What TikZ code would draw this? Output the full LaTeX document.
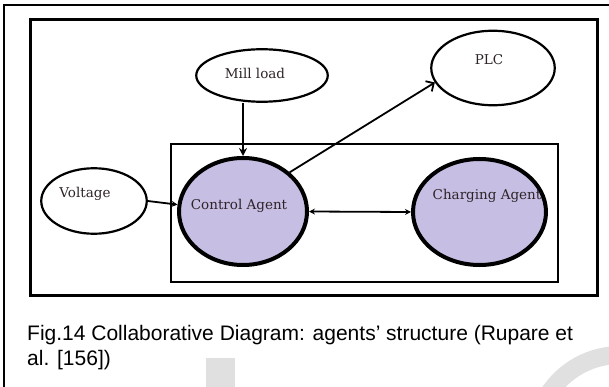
\documentclass[tikz,border=0pt]{standalone}
\usepackage{fontspec}
\setmainfont{Liberation Sans}
\newfontfamily\nodefont{DejaVu Serif}
\usetikzlibrary{shapes.geometric,arrows.meta}

\definecolor{agentfill}{RGB}{199,190,228}
\definecolor{labelink}{RGB}{45,35,40}
\definecolor{markgray}{RGB}{224,224,224}

\begin{document}
\begin{tikzpicture}[x=1pt,y=-1pt,
  oval/.style={draw, ellipse, line width=2.2pt, inner sep=0pt},
  agent/.style={draw, ellipse, line width=4pt, fill=agentfill, inner sep=0pt},
  lbl/.style={font=\nodefont\fontsize{13.5}{15}\selectfont, text=labelink, inner sep=0pt, anchor=base},
  conn/.style={line width=1.8pt},
  caption/.style={font=\fontsize{21}{25}\selectfont, inner sep=0pt, anchor=base west},
]
\useasboundingbox (0,0) rectangle (609,387);

% faint background marks
\begin{scope}
  \clip (0,0) rectangle (609,387);
  \fill[markgray] (206,358) rectangle (235,392);
  \draw[markgray, line width=18pt] (620,440) ++(200:85) arc[start angle=200, end angle=300, radius=85];
\end{scope}

% page rules and frames
\draw[line width=2.2pt] (4,387) -- (4,5) -- (609,5);
\draw[line width=3pt] (30,20) rectangle (597,295);
\draw[line width=1.5pt] (171,144) rectangle (558,282);

% nodes
\node[oval, minimum width=131.5pt, minimum height=52.5pt] (mill) at (262,75.5) {};
\node[oval, minimum width=123.5pt, minimum height=74.5pt] (plc) at (493,68) {};
\node[oval, minimum width=105.5pt, minimum height=65.5pt] (volt) at (94,201) {};
\node[agent, minimum width=128pt, minimum height=107pt] (ctrl) at (243,211.5) {};
\node[agent, minimum width=133pt, minimum height=106pt] (charg) at (479.5,212) {};

% labels
\node[lbl] (millt) at (255,79) {Mill load};
\node[lbl] (plct) at (489,65) {PLC};
\node[lbl] (voltt) at (85,197.5) {Voltage};
\node[lbl] (ctrlt) at (239,209) {Control Agent};
\node[lbl] (chargt) at (487,199) {Charging Agent};

% connectors
\draw[conn, -{Stealth[length=8pt,width=8pt]}] (ctrl.north |- mill.south) -- (ctrl.north);
\draw[conn, -{Straight Barb[length=6pt,width=12pt]}] (ctrl.40) -- (plc.194);
\draw[conn, -{Stealth[length=6pt,width=6pt]}] (volt.east) -- (ctrl.174);
\draw[conn, {Stealth[length=6pt,width=6pt]}-{Stealth[length=6pt,width=6pt]}] (ctrl.east) -- (charg.west);

% caption
\node[caption] (cap1) at (27,340) {Fig.14 Collaborative Diagram: agents’ structure (Rupare et};
\node[caption] (cap2) at (27,365) {al. [156])};
\end{tikzpicture}
\end{document}
